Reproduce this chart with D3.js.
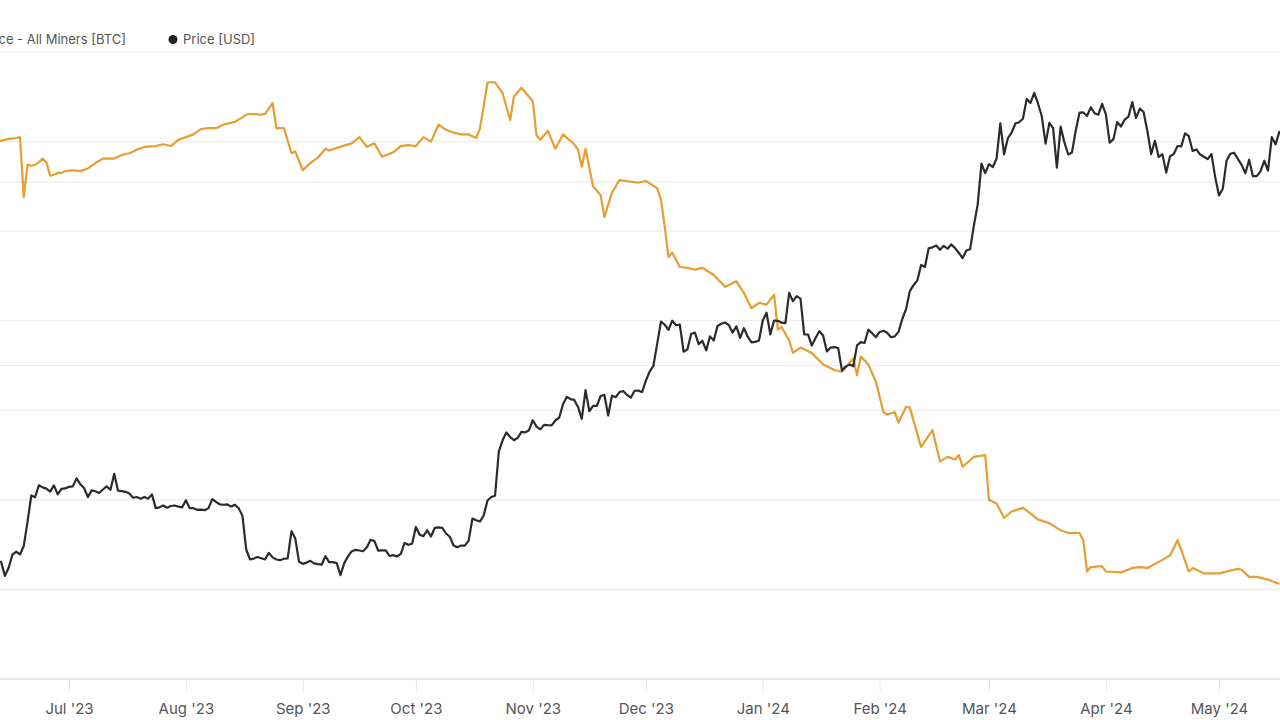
<!DOCTYPE html>
<html>
<head>
<meta charset="utf-8">
<script src="https://cdn.jsdelivr.net/npm/d3@7"></script>
<style>
  body { margin: 0; background: #ffffff; }
  svg { display: block; font-family: Inter, "Noto Sans", Roboto, sans-serif; }
</style>
</head>
<body>
<svg id="chart" width="1280" height="720"></svg>
<script>
// ---------------- DATA ----------------
const monthTicks  = ["2023-07-01","2023-08-01","2023-09-01","2023-10-01","2023-11-01","2023-12-01",
                     "2024-01-01","2024-02-01","2024-03-01","2024-04-01","2024-05-01"];
const monthLabels = ["Jul '23","Aug '23","Sep '23","Oct '23","Nov '23","Dec '23",
                     "Jan '24","Feb '24","Mar '24","Apr '24","May '24"];
const balanceTicks = [1780000,1790000,1800000,1810000,1820000,1830000,1840000,1850000];
const priceTicks   = [20000,40000,60000,80000];
const seriesNames  = ["Balance - All Miners [BTC]","Price [USD]"];

// Daily BTC price (USD), starting 2023-06-12
const priceStart = "2023-06-12";
const priceUSD = [
  // Jun 12-30
  25940,25910,25120,25580,26330,26510,26340,26840,28310,30010,29890,30690,30550,30470,30270,30690,30080,30450,30480,
  // Jul
  30590,30620,31160,30770,30510,29900,30350,30290,30170,30410,30620,30390,31480,30330,30300,30250,30140,29860,29910,29800,29910,29800,30080,29180,29230,29350,29210,29320,29350,29280,29230,
  // Aug
  29700,29180,29180,29070,29090,29050,29180,29770,29580,29430,29400,29420,29280,29400,29170,28700,26630,26050,26100,26190,26120,26050,26430,26170,26050,26010,26090,26110,27730,27300,25930,
  // Sep
  25800,25870,25970,25830,25780,25750,26240,25900,25900,25840,25160,25840,26230,26530,26610,26570,26530,26760,27210,27130,26570,26580,26580,26250,26300,26220,26370,27020,26910,26970,
  // Oct
  27990,27510,27430,27790,27410,27930,27960,27940,27590,27390,26870,26760,26860,26860,27160,28520,28410,28330,28720,29680,29910,29990,33090,33900,34500,34150,33910,34090,34540,34500,34670,
  // Nov
  35440,34940,34730,35080,35050,35040,35420,35640,36690,37310,37140,37070,36500,35540,37880,36160,36590,36590,37390,37480,35810,37420,37290,37720,37800,37480,37250,37830,37850,37710,
  // Dec
  38690,39470,39980,41980,44080,43770,43290,44170,43720,43790,41240,41450,42890,43020,41930,42240,41360,42660,42270,43650,43870,43990,43740,43010,43610,42520,43440,42630,42100,42140,42280,
  // Jan
  44180,44960,42850,44180,44160,43970,43930,46970,46110,46630,46370,42850,42840,41800,42510,43150,42740,41260,41620,41660,41580,39570,39900,40080,39930,41820,42120,42040,43300,42950,42580,
  // Feb
  43080,43190,43000,42580,42660,43090,44330,45300,47150,47770,48290,49960,49740,51830,51940,52160,51660,52120,51780,52280,51850,51320,50730,51570,51730,54520,57090,62500,61200,
  // Mar
  62440,62030,63170,68330,63800,66110,66940,68300,68500,69020,72120,71480,73080,71400,69400,65320,68390,67610,61940,67840,65500,63780,64060,67230,69960,69990,69450,70780,69870,69640,71330,
  // Apr
  69700,65460,65980,68510,67840,68900,69360,71620,69150,70590,70060,67190,63820,65740,63430,63810,61280,63510,63840,64990,64930,66840,66410,64280,64500,63770,63460,63120,63840,60640,
  // May 1-18
  58250,59120,62890,63890,64030,63160,62330,61190,63050,60790,60790,61450,62900,61550,66270,65230,67050,66940
];

// Balance - All Miners (BTC)
const balanceDates = [
  "2023-06-12","2023-06-15","2023-06-17","2023-06-18","2023-06-19","2023-06-20","2023-06-21","2023-06-22","2023-06-23","2023-06-24",
  "2023-06-25","2023-06-26","2023-06-27","2023-06-28","2023-06-29","2023-06-30","2023-07-02","2023-07-04","2023-07-06","2023-07-08",
  "2023-07-10","2023-07-13","2023-07-15","2023-07-17","2023-07-19","2023-07-21","2023-07-24","2023-07-26","2023-07-28","2023-07-30",
  "2023-08-01","2023-08-03","2023-08-05","2023-08-07","2023-08-09","2023-08-11","2023-08-14","2023-08-16","2023-08-17","2023-08-18",
  "2023-08-21","2023-08-22","2023-08-24","2023-08-25","2023-08-27","2023-08-29","2023-08-30","2023-09-01","2023-09-03","2023-09-05",
  "2023-09-07","2023-09-08","2023-09-10","2023-09-14","2023-09-16","2023-09-18","2023-09-20","2023-09-22","2023-09-25","2023-09-27",
  "2023-09-29","2023-10-01","2023-10-03","2023-10-05","2023-10-07","2023-10-09","2023-10-11","2023-10-13","2023-10-15","2023-10-17",
  "2023-10-18","2023-10-20","2023-10-22","2023-10-24","2023-10-26","2023-10-27","2023-10-29","2023-11-01","2023-11-02","2023-11-03",
  "2023-11-05","2023-11-07","2023-11-09","2023-11-12","2023-11-13","2023-11-14","2023-11-15","2023-11-17","2023-11-19","2023-11-20",
  "2023-11-22","2023-11-24","2023-11-29","2023-12-01","2023-12-04","2023-12-05","2023-12-06","2023-12-07","2023-12-08","2023-12-10",
  "2023-12-12","2023-12-14","2023-12-16","2023-12-19","2023-12-22","2023-12-25","2023-12-27","2023-12-29","2023-12-31","2024-01-02",
  "2024-01-04","2024-01-05","2024-01-06","2024-01-08","2024-01-09","2024-01-11","2024-01-14","2024-01-17","2024-01-20","2024-01-22",
  "2024-01-25","2024-01-26","2024-01-27","2024-01-29","2024-01-31","2024-02-02","2024-02-03","2024-02-05","2024-02-06","2024-02-08",
  "2024-02-09","2024-02-12","2024-02-15","2024-02-17","2024-02-19","2024-02-21","2024-02-22","2024-02-23","2024-02-26","2024-02-29",
  "2024-03-01","2024-03-03","2024-03-05","2024-03-07","2024-03-10","2024-03-12","2024-03-14","2024-03-17","2024-03-20","2024-03-22",
  "2024-03-25","2024-03-26","2024-03-27","2024-03-28","2024-03-31","2024-04-01","2024-04-05","2024-04-08","2024-04-10","2024-04-12",
  "2024-04-16","2024-04-18","2024-04-20","2024-04-21","2024-04-23","2024-04-24","2024-04-27","2024-05-01","2024-05-06","2024-05-07",
  "2024-05-09","2024-05-11","2024-05-14","2024-05-17"
];
const balanceBTC = [
  1840000,1840300,1840400,1840500,1833800,1837400,1837300,1837400,1837700,1838100,
  1837700,1836200,1836300,1836500,1836500,1836700,1836800,1836700,1837000,1837600,
  1838100,1838100,1838500,1838700,1839100,1839400,1839500,1839700,1839500,1840200,
  1840500,1840800,1841400,1841500,1841500,1841900,1842200,1842700,1843000,1843100,
  1843000,1843100,1844300,1841500,1841500,1838700,1838900,1836800,1837600,1838200,
  1839200,1839000,1839300,1839800,1840500,1839400,1839800,1838300,1838800,1839500,
  1839600,1839500,1840500,1840000,1841900,1841300,1841000,1840800,1840800,1840400,
  1841500,1846600,1846600,1845400,1842400,1845000,1846000,1844500,1840700,1840200,
  1841200,1839200,1840800,1839700,1839100,1837200,1839200,1835000,1834000,1831600,
  1834300,1835700,1835400,1835600,1834800,1833500,1830500,1827100,1827600,1826000,
  1825900,1825700,1825900,1825100,1823800,1824400,1823100,1821400,1822000,1821800,
  1822900,1819000,1819300,1817800,1816400,1817000,1816400,1815100,1814500,1814300,
  1815800,1813900,1816000,1815100,1813200,1809800,1809500,1809800,1808600,1810400,
  1810300,1805900,1807800,1804300,1804800,1804500,1805000,1803700,1804800,1805000,
  1800000,1799600,1798000,1798700,1799100,1798500,1797800,1797400,1796600,1796300,
  1796300,1795500,1792000,1792500,1792600,1792000,1791900,1792400,1792500,1792400,
  1793300,1793800,1795500,1794400,1792000,1792400,1791800,1791800,1792300,1792200,
  1791400,1791400,1791100,1790600
];

// ---------------- CHART ----------------
const W = 1280, H = 720;
const svg = d3.select("#chart");
const parse = d3.utcParse("%Y-%m-%d");

const x = d3.scaleUtc()
  .domain([parse(monthTicks[0]), parse(monthTicks[monthTicks.length - 1])])
  .range([69, 1219]);
const yL = d3.scaleLinear()
  .domain([balanceTicks[0], balanceTicks[balanceTicks.length - 1]])
  .range([679, 52]);
const yR = d3.scaleLog()
  .domain([priceTicks[0], priceTicks[priceTicks.length - 1]])
  .range([679, 52]);

// gridlines
const grid = svg.append("g").attr("class", "grid");
grid.selectAll("line.gl").data(balanceTicks.slice(1)).join("line")
  .attr("class", "gl")
  .attr("x1", 0).attr("x2", W)
  .attr("y1", d => yL(d)).attr("y2", d => yL(d))
  .attr("stroke", "#ececec").attr("stroke-width", 1.2);
grid.selectAll("line.gr").data(priceTicks.slice(1, -1)).join("line")
  .attr("class", "gr")
  .attr("x1", 0).attr("x2", W)
  .attr("y1", d => yR(d)).attr("y2", d => yR(d))
  .attr("stroke", "#ececec").attr("stroke-width", 1.2);

// x axis
const tickDates = monthTicks.map(parse);
const xAxis = d3.axisBottom(x)
  .tickValues(tickDates)
  .tickFormat((d, i) => monthLabels[i])
  .tickSize(12)
  .tickPadding(12);
const gx = svg.append("g").attr("transform", `translate(0,${yL(balanceTicks[0])})`).call(xAxis);
gx.select(".domain").remove();
gx.append("line").attr("x1", 0).attr("x2", W).attr("y1", 0).attr("y2", 0)
  .attr("stroke", "#e2e2e2").attr("stroke-width", 1.5);
gx.selectAll(".tick line").attr("stroke", "#e6e6e6").attr("stroke-width", 1);
gx.selectAll(".tick text")
  .attr("fill", "#555")
  .style("font-size", "15px")
  .style("font-family", "Inter, 'Noto Sans', sans-serif");

// lines
const balanceData = balanceDates.map((d, i) => ({ date: parse(d), v: balanceBTC[i] }));
const start = parse(priceStart);
const priceData = priceUSD.map((v, i) => ({ date: d3.utcDay.offset(start, i), v }));

svg.append("path")
  .datum(balanceData)
  .attr("fill", "none")
  .attr("stroke", "#E69D31")
  .attr("stroke-width", 2.2)
  .attr("stroke-linejoin", "round")
  .attr("d", d3.line().x(d => x(d.date)).y(d => yL(d.v)));

svg.append("path")
  .datum(priceData)
  .attr("fill", "none")
  .attr("stroke", "#2b2b2b")
  .attr("stroke-width", 2.2)
  .attr("stroke-linejoin", "round")
  .attr("d", d3.line().x(d => x(d.date)).y(d => yR(d.v)));

// legend
const leg = svg.append("g").style("font-size", "13px").attr("fill", "#555");
leg.append("text").attr("x", 126).attr("y", 44).attr("text-anchor", "end").text(seriesNames[0]);
leg.append("circle").attr("cx", 173).attr("cy", 39.5).attr("r", 4.5).attr("fill", "#222");
leg.append("text").attr("x", 183).attr("y", 44).text(seriesNames[1]);
</script>
</body>
</html>
